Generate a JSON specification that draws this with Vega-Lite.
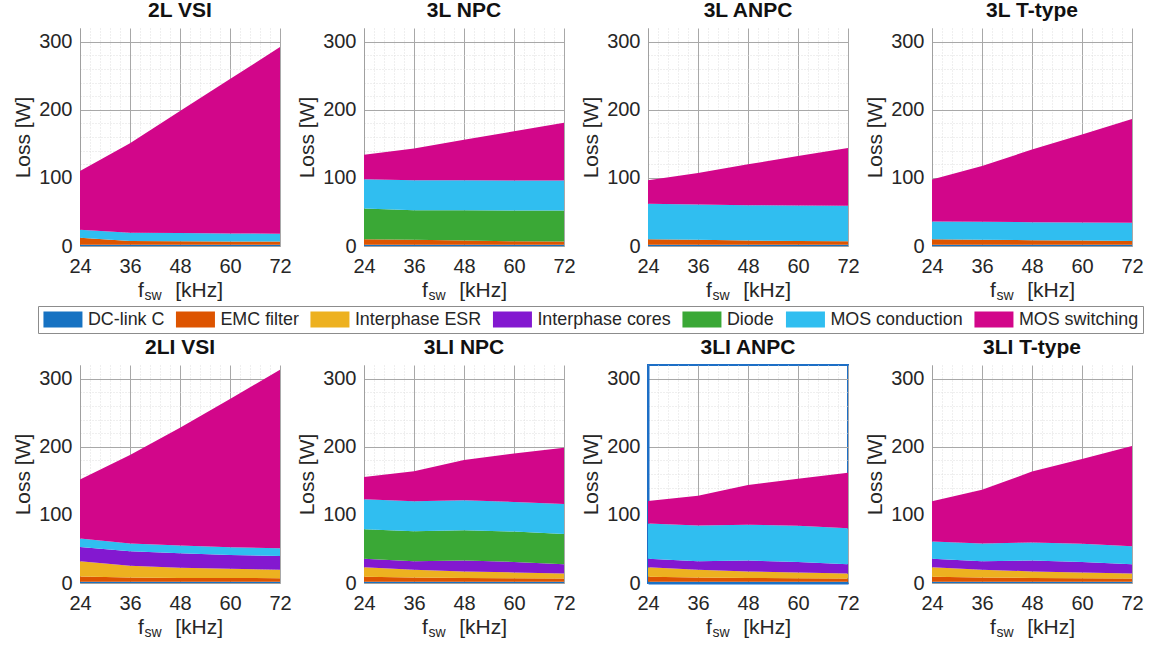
{
"$schema": "https://vega.github.io/schema/vega-lite/v6.json",
"padding": {"left": 12, "top": 0, "right": 0, "bottom": 0},
"background": "white",
"data": {"values": [
{"t":"2L VSI","f":24,"c":"DC-link C","k":0,"v":2},{"t":"2L VSI","f":36,"c":"DC-link C","k":0,"v":2},{"t":"2L VSI","f":48,"c":"DC-link C","k":0,"v":2},{"t":"2L VSI","f":60,"c":"DC-link C","k":0,"v":2},{"t":"2L VSI","f":72,"c":"DC-link C","k":0,"v":2},
{"t":"2L VSI","f":24,"c":"EMC filter","k":1,"v":10},{"t":"2L VSI","f":36,"c":"EMC filter","k":1,"v":5.5},{"t":"2L VSI","f":48,"c":"EMC filter","k":1,"v":5},{"t":"2L VSI","f":60,"c":"EMC filter","k":1,"v":4.5},{"t":"2L VSI","f":72,"c":"EMC filter","k":1,"v":4.5},
{"t":"2L VSI","f":24,"c":"MOS conduction","k":5,"v":12},{"t":"2L VSI","f":36,"c":"MOS conduction","k":5,"v":12},{"t":"2L VSI","f":48,"c":"MOS conduction","k":5,"v":12},{"t":"2L VSI","f":60,"c":"MOS conduction","k":5,"v":12},{"t":"2L VSI","f":72,"c":"MOS conduction","k":5,"v":11.5},
{"t":"2L VSI","f":24,"c":"MOS switching","k":6,"v":86},{"t":"2L VSI","f":36,"c":"MOS switching","k":6,"v":131.5},{"t":"2L VSI","f":48,"c":"MOS switching","k":6,"v":179},{"t":"2L VSI","f":60,"c":"MOS switching","k":6,"v":226.5},{"t":"2L VSI","f":72,"c":"MOS switching","k":6,"v":274},

{"t":"3L NPC","f":24,"c":"DC-link C","k":0,"v":2},{"t":"3L NPC","f":36,"c":"DC-link C","k":0,"v":2},{"t":"3L NPC","f":48,"c":"DC-link C","k":0,"v":2},{"t":"3L NPC","f":60,"c":"DC-link C","k":0,"v":2},{"t":"3L NPC","f":72,"c":"DC-link C","k":0,"v":2},
{"t":"3L NPC","f":24,"c":"EMC filter","k":1,"v":8},{"t":"3L NPC","f":36,"c":"EMC filter","k":1,"v":7},{"t":"3L NPC","f":48,"c":"EMC filter","k":1,"v":6},{"t":"3L NPC","f":60,"c":"EMC filter","k":1,"v":5},{"t":"3L NPC","f":72,"c":"EMC filter","k":1,"v":4.5},
{"t":"3L NPC","f":24,"c":"Diode","k":4,"v":45},{"t":"3L NPC","f":36,"c":"Diode","k":4,"v":43.5},{"t":"3L NPC","f":48,"c":"Diode","k":4,"v":44.5},{"t":"3L NPC","f":60,"c":"Diode","k":4,"v":45},{"t":"3L NPC","f":72,"c":"Diode","k":4,"v":45.5},
{"t":"3L NPC","f":24,"c":"MOS conduction","k":5,"v":43},{"t":"3L NPC","f":36,"c":"MOS conduction","k":5,"v":44},{"t":"3L NPC","f":48,"c":"MOS conduction","k":5,"v":44},{"t":"3L NPC","f":60,"c":"MOS conduction","k":5,"v":44},{"t":"3L NPC","f":72,"c":"MOS conduction","k":5,"v":44},
{"t":"3L NPC","f":24,"c":"MOS switching","k":6,"v":36},{"t":"3L NPC","f":36,"c":"MOS switching","k":6,"v":46.5},{"t":"3L NPC","f":48,"c":"MOS switching","k":6,"v":59.5},{"t":"3L NPC","f":60,"c":"MOS switching","k":6,"v":72.5},{"t":"3L NPC","f":72,"c":"MOS switching","k":6,"v":85},

{"t":"3L ANPC","f":24,"c":"DC-link C","k":0,"v":2},{"t":"3L ANPC","f":36,"c":"DC-link C","k":0,"v":2},{"t":"3L ANPC","f":48,"c":"DC-link C","k":0,"v":2},{"t":"3L ANPC","f":60,"c":"DC-link C","k":0,"v":2},{"t":"3L ANPC","f":72,"c":"DC-link C","k":0,"v":2},
{"t":"3L ANPC","f":24,"c":"EMC filter","k":1,"v":8},{"t":"3L ANPC","f":36,"c":"EMC filter","k":1,"v":7},{"t":"3L ANPC","f":48,"c":"EMC filter","k":1,"v":6},{"t":"3L ANPC","f":60,"c":"EMC filter","k":1,"v":5.5},{"t":"3L ANPC","f":72,"c":"EMC filter","k":1,"v":5},
{"t":"3L ANPC","f":24,"c":"MOS conduction","k":5,"v":52},{"t":"3L ANPC","f":36,"c":"MOS conduction","k":5,"v":52},{"t":"3L ANPC","f":48,"c":"MOS conduction","k":5,"v":52},{"t":"3L ANPC","f":60,"c":"MOS conduction","k":5,"v":52},{"t":"3L ANPC","f":72,"c":"MOS conduction","k":5,"v":52},
{"t":"3L ANPC","f":24,"c":"MOS switching","k":6,"v":34.5},{"t":"3L ANPC","f":36,"c":"MOS switching","k":6,"v":46},{"t":"3L ANPC","f":48,"c":"MOS switching","k":6,"v":60},{"t":"3L ANPC","f":60,"c":"MOS switching","k":6,"v":72.5},{"t":"3L ANPC","f":72,"c":"MOS switching","k":6,"v":85},

{"t":"3L T-type","f":24,"c":"DC-link C","k":0,"v":2},{"t":"3L T-type","f":36,"c":"DC-link C","k":0,"v":2},{"t":"3L T-type","f":48,"c":"DC-link C","k":0,"v":2},{"t":"3L T-type","f":60,"c":"DC-link C","k":0,"v":2},{"t":"3L T-type","f":72,"c":"DC-link C","k":0,"v":2},
{"t":"3L T-type","f":24,"c":"EMC filter","k":1,"v":8},{"t":"3L T-type","f":36,"c":"EMC filter","k":1,"v":7},{"t":"3L T-type","f":48,"c":"EMC filter","k":1,"v":6.5},{"t":"3L T-type","f":60,"c":"EMC filter","k":1,"v":6},{"t":"3L T-type","f":72,"c":"EMC filter","k":1,"v":5.5},
{"t":"3L T-type","f":24,"c":"MOS conduction","k":5,"v":26},{"t":"3L T-type","f":36,"c":"MOS conduction","k":5,"v":26.5},{"t":"3L T-type","f":48,"c":"MOS conduction","k":5,"v":26.5},{"t":"3L T-type","f":60,"c":"MOS conduction","k":5,"v":26.5},{"t":"3L T-type","f":72,"c":"MOS conduction","k":5,"v":26.5},
{"t":"3L T-type","f":24,"c":"MOS switching","k":6,"v":61.5},{"t":"3L T-type","f":36,"c":"MOS switching","k":6,"v":82},{"t":"3L T-type","f":48,"c":"MOS switching","k":6,"v":106.5},{"t":"3L T-type","f":60,"c":"MOS switching","k":6,"v":129},{"t":"3L T-type","f":72,"c":"MOS switching","k":6,"v":152.5},

{"t":"2LI VSI","f":24,"c":"DC-link C","k":0,"v":2},{"t":"2LI VSI","f":36,"c":"DC-link C","k":0,"v":2},{"t":"2LI VSI","f":48,"c":"DC-link C","k":0,"v":2},{"t":"2LI VSI","f":60,"c":"DC-link C","k":0,"v":2},{"t":"2LI VSI","f":72,"c":"DC-link C","k":0,"v":2},
{"t":"2LI VSI","f":24,"c":"EMC filter","k":1,"v":7.5},{"t":"2LI VSI","f":36,"c":"EMC filter","k":1,"v":6},{"t":"2LI VSI","f":48,"c":"EMC filter","k":1,"v":5.5},{"t":"2LI VSI","f":60,"c":"EMC filter","k":1,"v":5.5},{"t":"2LI VSI","f":72,"c":"EMC filter","k":1,"v":5},
{"t":"2LI VSI","f":24,"c":"Interphase ESR","k":2,"v":22.5},{"t":"2LI VSI","f":36,"c":"Interphase ESR","k":2,"v":17.5},{"t":"2LI VSI","f":48,"c":"Interphase ESR","k":2,"v":15},{"t":"2LI VSI","f":60,"c":"Interphase ESR","k":2,"v":13.5},{"t":"2LI VSI","f":72,"c":"Interphase ESR","k":2,"v":12.5},
{"t":"2LI VSI","f":24,"c":"Interphase cores","k":3,"v":21},{"t":"2LI VSI","f":36,"c":"Interphase cores","k":3,"v":21},{"t":"2LI VSI","f":48,"c":"Interphase cores","k":3,"v":21},{"t":"2LI VSI","f":60,"c":"Interphase cores","k":3,"v":20},{"t":"2LI VSI","f":72,"c":"Interphase cores","k":3,"v":20},
{"t":"2LI VSI","f":24,"c":"MOS conduction","k":5,"v":12.5},{"t":"2LI VSI","f":36,"c":"MOS conduction","k":5,"v":11.5},{"t":"2LI VSI","f":48,"c":"MOS conduction","k":5,"v":11.5},{"t":"2LI VSI","f":60,"c":"MOS conduction","k":5,"v":11.5},{"t":"2LI VSI","f":72,"c":"MOS conduction","k":5,"v":11.5},
{"t":"2LI VSI","f":24,"c":"MOS switching","k":6,"v":86.5},{"t":"2LI VSI","f":36,"c":"MOS switching","k":6,"v":130},{"t":"2LI VSI","f":48,"c":"MOS switching","k":6,"v":173},{"t":"2LI VSI","f":60,"c":"MOS switching","k":6,"v":217.5},{"t":"2LI VSI","f":72,"c":"MOS switching","k":6,"v":262},

{"t":"3LI NPC","f":24,"c":"DC-link C","k":0,"v":2},{"t":"3LI NPC","f":36,"c":"DC-link C","k":0,"v":2},{"t":"3LI NPC","f":48,"c":"DC-link C","k":0,"v":2},{"t":"3LI NPC","f":60,"c":"DC-link C","k":0,"v":2},{"t":"3LI NPC","f":72,"c":"DC-link C","k":0,"v":2},
{"t":"3LI NPC","f":24,"c":"EMC filter","k":1,"v":7},{"t":"3LI NPC","f":36,"c":"EMC filter","k":1,"v":6},{"t":"3LI NPC","f":48,"c":"EMC filter","k":1,"v":5.5},{"t":"3LI NPC","f":60,"c":"EMC filter","k":1,"v":5},{"t":"3LI NPC","f":72,"c":"EMC filter","k":1,"v":4.5},
{"t":"3LI NPC","f":24,"c":"Interphase ESR","k":2,"v":14},{"t":"3LI NPC","f":36,"c":"Interphase ESR","k":2,"v":11.5},{"t":"3LI NPC","f":48,"c":"Interphase ESR","k":2,"v":9.5},{"t":"3LI NPC","f":60,"c":"Interphase ESR","k":2,"v":8.5},{"t":"3LI NPC","f":72,"c":"Interphase ESR","k":2,"v":7.5},
{"t":"3LI NPC","f":24,"c":"Interphase cores","k":3,"v":12.5},{"t":"3LI NPC","f":36,"c":"Interphase cores","k":3,"v":12.5},{"t":"3LI NPC","f":48,"c":"Interphase cores","k":3,"v":16},{"t":"3LI NPC","f":60,"c":"Interphase cores","k":3,"v":15.5},{"t":"3LI NPC","f":72,"c":"Interphase cores","k":3,"v":13.5},
{"t":"3LI NPC","f":24,"c":"Diode","k":4,"v":43.5},{"t":"3LI NPC","f":36,"c":"Diode","k":4,"v":44},{"t":"3LI NPC","f":48,"c":"Diode","k":4,"v":44.5},{"t":"3LI NPC","f":60,"c":"Diode","k":4,"v":44.5},{"t":"3LI NPC","f":72,"c":"Diode","k":4,"v":44.5},
{"t":"3LI NPC","f":24,"c":"MOS conduction","k":5,"v":44},{"t":"3LI NPC","f":36,"c":"MOS conduction","k":5,"v":44},{"t":"3LI NPC","f":48,"c":"MOS conduction","k":5,"v":44},{"t":"3LI NPC","f":60,"c":"MOS conduction","k":5,"v":43.5},{"t":"3LI NPC","f":72,"c":"MOS conduction","k":5,"v":44},
{"t":"3LI NPC","f":24,"c":"MOS switching","k":6,"v":32.5},{"t":"3LI NPC","f":36,"c":"MOS switching","k":6,"v":44},{"t":"3LI NPC","f":48,"c":"MOS switching","k":6,"v":59},{"t":"3LI NPC","f":60,"c":"MOS switching","k":6,"v":71},{"t":"3LI NPC","f":72,"c":"MOS switching","k":6,"v":82.5},

{"t":"3LI ANPC","f":24,"c":"DC-link C","k":0,"v":2},{"t":"3LI ANPC","f":36,"c":"DC-link C","k":0,"v":2},{"t":"3LI ANPC","f":48,"c":"DC-link C","k":0,"v":2},{"t":"3LI ANPC","f":60,"c":"DC-link C","k":0,"v":2},{"t":"3LI ANPC","f":72,"c":"DC-link C","k":0,"v":2},
{"t":"3LI ANPC","f":24,"c":"EMC filter","k":1,"v":7},{"t":"3LI ANPC","f":36,"c":"EMC filter","k":1,"v":6},{"t":"3LI ANPC","f":48,"c":"EMC filter","k":1,"v":5.5},{"t":"3LI ANPC","f":60,"c":"EMC filter","k":1,"v":5},{"t":"3LI ANPC","f":72,"c":"EMC filter","k":1,"v":4.5},
{"t":"3LI ANPC","f":24,"c":"Interphase ESR","k":2,"v":14},{"t":"3LI ANPC","f":36,"c":"Interphase ESR","k":2,"v":11.5},{"t":"3LI ANPC","f":48,"c":"Interphase ESR","k":2,"v":9.5},{"t":"3LI ANPC","f":60,"c":"Interphase ESR","k":2,"v":8.5},{"t":"3LI ANPC","f":72,"c":"Interphase ESR","k":2,"v":7.5},
{"t":"3LI ANPC","f":24,"c":"Interphase cores","k":3,"v":12.5},{"t":"3LI ANPC","f":36,"c":"Interphase cores","k":3,"v":12.5},{"t":"3LI ANPC","f":48,"c":"Interphase cores","k":3,"v":16},{"t":"3LI ANPC","f":60,"c":"Interphase cores","k":3,"v":15.5},{"t":"3LI ANPC","f":72,"c":"Interphase cores","k":3,"v":13.5},
{"t":"3LI ANPC","f":24,"c":"MOS conduction","k":5,"v":52},{"t":"3LI ANPC","f":36,"c":"MOS conduction","k":5,"v":52.5},{"t":"3LI ANPC","f":48,"c":"MOS conduction","k":5,"v":52.5},{"t":"3LI ANPC","f":60,"c":"MOS conduction","k":5,"v":53},{"t":"3LI ANPC","f":72,"c":"MOS conduction","k":5,"v":53},
{"t":"3LI ANPC","f":24,"c":"MOS switching","k":6,"v":33},{"t":"3LI ANPC","f":36,"c":"MOS switching","k":6,"v":43.5},{"t":"3LI ANPC","f":48,"c":"MOS switching","k":6,"v":58.5},{"t":"3LI ANPC","f":60,"c":"MOS switching","k":6,"v":69},{"t":"3LI ANPC","f":72,"c":"MOS switching","k":6,"v":81.5},

{"t":"3LI T-type","f":24,"c":"DC-link C","k":0,"v":2},{"t":"3LI T-type","f":36,"c":"DC-link C","k":0,"v":2},{"t":"3LI T-type","f":48,"c":"DC-link C","k":0,"v":2},{"t":"3LI T-type","f":60,"c":"DC-link C","k":0,"v":2},{"t":"3LI T-type","f":72,"c":"DC-link C","k":0,"v":2},
{"t":"3LI T-type","f":24,"c":"EMC filter","k":1,"v":7},{"t":"3LI T-type","f":36,"c":"EMC filter","k":1,"v":6},{"t":"3LI T-type","f":48,"c":"EMC filter","k":1,"v":5.5},{"t":"3LI T-type","f":60,"c":"EMC filter","k":1,"v":5},{"t":"3LI T-type","f":72,"c":"EMC filter","k":1,"v":4.5},
{"t":"3LI T-type","f":24,"c":"Interphase ESR","k":2,"v":14},{"t":"3LI T-type","f":36,"c":"Interphase ESR","k":2,"v":11.5},{"t":"3LI T-type","f":48,"c":"Interphase ESR","k":2,"v":9.5},{"t":"3LI T-type","f":60,"c":"Interphase ESR","k":2,"v":8.5},{"t":"3LI T-type","f":72,"c":"Interphase ESR","k":2,"v":7.5},
{"t":"3LI T-type","f":24,"c":"Interphase cores","k":3,"v":12.5},{"t":"3LI T-type","f":36,"c":"Interphase cores","k":3,"v":12.5},{"t":"3LI T-type","f":48,"c":"Interphase cores","k":3,"v":16},{"t":"3LI T-type","f":60,"c":"Interphase cores","k":3,"v":15.5},{"t":"3LI T-type","f":72,"c":"Interphase cores","k":3,"v":13.5},
{"t":"3LI T-type","f":24,"c":"MOS conduction","k":5,"v":25.5},{"t":"3LI T-type","f":36,"c":"MOS conduction","k":5,"v":26},{"t":"3LI T-type","f":48,"c":"MOS conduction","k":5,"v":26.5},{"t":"3LI T-type","f":60,"c":"MOS conduction","k":5,"v":26.5},{"t":"3LI T-type","f":72,"c":"MOS conduction","k":5,"v":26.5},
{"t":"3LI T-type","f":24,"c":"MOS switching","k":6,"v":59},{"t":"3LI T-type","f":36,"c":"MOS switching","k":6,"v":79},{"t":"3LI T-type","f":48,"c":"MOS switching","k":6,"v":104},{"t":"3LI T-type","f":60,"c":"MOS switching","k":6,"v":124.5},{"t":"3LI T-type","f":72,"c":"MOS switching","k":6,"v":147}
]},
"spacing": 2,
"resolve": {"legend": {"color": "independent"}},
"vconcat": [
{"hconcat": [
{"width": 200, "height": 218, "title": "2L VSI", "transform": [{"filter": "datum.t === '2L VSI'"}], "resolve": {"axis": {"x": "independent"}},
 "layer": [
  {"mark": {"type": "area", "interpolate": "linear"}, "encoding": {
    "x": {"field": "f", "type": "quantitative", "scale": {"domain": [24, 72], "nice": false, "zero": false}, "axis": {"values": [24,26.4,28.8,31.2,33.6,36,38.4,40.8,43.2,45.6,48,50.4,52.8,55.2,57.6,60,62.4,64.8,67.2,69.6,72], "labelExpr": "datum.value % 12 === 0 ? datum.label : ''", "gridColor": {"condition": {"test": "datum.value % 12 === 0", "value": "#a8a8a8"}, "value": "#dedede"}, "gridDash": {"condition": {"test": "datum.value % 12 === 0", "value": []}, "value": [1, 2]}, "title": "f\u2003\u2002[kHz]"}},
    "y": {"field": "v", "type": "quantitative", "stack": "zero", "scale": {"domain": [0, 320], "nice": false}, "axis": {"values": [0,20,40,60,80,100,120,140,160,180,200,220,240,260,280,300], "labelExpr": "datum.value % 100 === 0 ? datum.label : ''", "gridColor": {"condition": {"test": "datum.value % 100 === 0", "value": "#a8a8a8"}, "value": "#dedede"}, "gridDash": {"condition": {"test": "datum.value % 100 === 0", "value": []}, "value": [1, 2]}, "title": "Loss [W]"}},
    "color": {"field": "c", "type": "nominal", "title": null, "scale": {"domain": ["DC-link C","EMC filter","Interphase ESR","Interphase cores","Diode","MOS conduction","MOS switching"], "range": ["#1672c2","#dd5400","#edb120","#8318d0","#3aa836","#30bef0","#d2068a"]}},
    "order": {"field": "k", "type": "quantitative"}}},
  {"mark": {"type": "point", "opacity": 0}, "encoding": {"x": {"field": "f", "type": "quantitative", "axis": {"orient": "top", "labels": false, "ticks": false, "domain": false, "grid": false, "title": "sw", "titleFontSize": 14, "titleX": 64, "titleY": 271, "titleAlign": "left", "titleBaseline": "alphabetic"}}}}
 ]},
{"width": 200, "height": 218, "title": "3L NPC", "transform": [{"filter": "datum.t === '3L NPC'"}], "resolve": {"axis": {"x": "independent"}},
 "layer": [
  {"mark": {"type": "area", "interpolate": "linear"}, "encoding": {
    "x": {"field": "f", "type": "quantitative", "scale": {"domain": [24, 72], "nice": false, "zero": false}, "axis": {"values": [24,26.4,28.8,31.2,33.6,36,38.4,40.8,43.2,45.6,48,50.4,52.8,55.2,57.6,60,62.4,64.8,67.2,69.6,72], "labelExpr": "datum.value % 12 === 0 ? datum.label : ''", "gridColor": {"condition": {"test": "datum.value % 12 === 0", "value": "#a8a8a8"}, "value": "#dedede"}, "gridDash": {"condition": {"test": "datum.value % 12 === 0", "value": []}, "value": [1, 2]}, "title": "f\u2003\u2002[kHz]"}},
    "y": {"field": "v", "type": "quantitative", "stack": "zero", "scale": {"domain": [0, 320], "nice": false}, "axis": {"values": [0,20,40,60,80,100,120,140,160,180,200,220,240,260,280,300], "labelExpr": "datum.value % 100 === 0 ? datum.label : ''", "gridColor": {"condition": {"test": "datum.value % 100 === 0", "value": "#a8a8a8"}, "value": "#dedede"}, "gridDash": {"condition": {"test": "datum.value % 100 === 0", "value": []}, "value": [1, 2]}, "title": "Loss [W]"}},
    "color": {"field": "c", "type": "nominal", "title": null, "scale": {"domain": ["DC-link C","EMC filter","Interphase ESR","Interphase cores","Diode","MOS conduction","MOS switching"], "range": ["#1672c2","#dd5400","#edb120","#8318d0","#3aa836","#30bef0","#d2068a"]}},
    "order": {"field": "k", "type": "quantitative"}}},
  {"mark": {"type": "point", "opacity": 0}, "encoding": {"x": {"field": "f", "type": "quantitative", "axis": {"orient": "top", "labels": false, "ticks": false, "domain": false, "grid": false, "title": "sw", "titleFontSize": 14, "titleX": 64, "titleY": 271, "titleAlign": "left", "titleBaseline": "alphabetic"}}}}
 ]},
{"width": 200, "height": 218, "title": "3L ANPC", "transform": [{"filter": "datum.t === '3L ANPC'"}], "resolve": {"axis": {"x": "independent"}},
 "layer": [
  {"mark": {"type": "area", "interpolate": "linear"}, "encoding": {
    "x": {"field": "f", "type": "quantitative", "scale": {"domain": [24, 72], "nice": false, "zero": false}, "axis": {"values": [24,26.4,28.8,31.2,33.6,36,38.4,40.8,43.2,45.6,48,50.4,52.8,55.2,57.6,60,62.4,64.8,67.2,69.6,72], "labelExpr": "datum.value % 12 === 0 ? datum.label : ''", "gridColor": {"condition": {"test": "datum.value % 12 === 0", "value": "#a8a8a8"}, "value": "#dedede"}, "gridDash": {"condition": {"test": "datum.value % 12 === 0", "value": []}, "value": [1, 2]}, "title": "f\u2003\u2002[kHz]"}},
    "y": {"field": "v", "type": "quantitative", "stack": "zero", "scale": {"domain": [0, 320], "nice": false}, "axis": {"values": [0,20,40,60,80,100,120,140,160,180,200,220,240,260,280,300], "labelExpr": "datum.value % 100 === 0 ? datum.label : ''", "gridColor": {"condition": {"test": "datum.value % 100 === 0", "value": "#a8a8a8"}, "value": "#dedede"}, "gridDash": {"condition": {"test": "datum.value % 100 === 0", "value": []}, "value": [1, 2]}, "title": "Loss [W]"}},
    "color": {"field": "c", "type": "nominal", "title": null, "scale": {"domain": ["DC-link C","EMC filter","Interphase ESR","Interphase cores","Diode","MOS conduction","MOS switching"], "range": ["#1672c2","#dd5400","#edb120","#8318d0","#3aa836","#30bef0","#d2068a"]}},
    "order": {"field": "k", "type": "quantitative"}}},
  {"mark": {"type": "point", "opacity": 0}, "encoding": {"x": {"field": "f", "type": "quantitative", "axis": {"orient": "top", "labels": false, "ticks": false, "domain": false, "grid": false, "title": "sw", "titleFontSize": 14, "titleX": 64, "titleY": 271, "titleAlign": "left", "titleBaseline": "alphabetic"}}}}
 ]},
{"width": 200, "height": 218, "title": "3L T-type", "transform": [{"filter": "datum.t === '3L T-type'"}], "resolve": {"axis": {"x": "independent"}},
 "layer": [
  {"mark": {"type": "area", "interpolate": "linear"}, "encoding": {
    "x": {"field": "f", "type": "quantitative", "scale": {"domain": [24, 72], "nice": false, "zero": false}, "axis": {"values": [24,26.4,28.8,31.2,33.6,36,38.4,40.8,43.2,45.6,48,50.4,52.8,55.2,57.6,60,62.4,64.8,67.2,69.6,72], "labelExpr": "datum.value % 12 === 0 ? datum.label : ''", "gridColor": {"condition": {"test": "datum.value % 12 === 0", "value": "#a8a8a8"}, "value": "#dedede"}, "gridDash": {"condition": {"test": "datum.value % 12 === 0", "value": []}, "value": [1, 2]}, "title": "f\u2003\u2002[kHz]"}},
    "y": {"field": "v", "type": "quantitative", "stack": "zero", "scale": {"domain": [0, 320], "nice": false}, "axis": {"values": [0,20,40,60,80,100,120,140,160,180,200,220,240,260,280,300], "labelExpr": "datum.value % 100 === 0 ? datum.label : ''", "gridColor": {"condition": {"test": "datum.value % 100 === 0", "value": "#a8a8a8"}, "value": "#dedede"}, "gridDash": {"condition": {"test": "datum.value % 100 === 0", "value": []}, "value": [1, 2]}, "title": "Loss [W]"}},
    "color": {"field": "c", "type": "nominal", "title": null, "scale": {"domain": ["DC-link C","EMC filter","Interphase ESR","Interphase cores","Diode","MOS conduction","MOS switching"], "range": ["#1672c2","#dd5400","#edb120","#8318d0","#3aa836","#30bef0","#d2068a"]}},
    "order": {"field": "k", "type": "quantitative"}}},
  {"mark": {"type": "point", "opacity": 0}, "encoding": {"x": {"field": "f", "type": "quantitative", "axis": {"orient": "top", "labels": false, "ticks": false, "domain": false, "grid": false, "title": "sw", "titleFontSize": 14, "titleX": 64, "titleY": 271, "titleAlign": "left", "titleBaseline": "alphabetic"}}}}
 ]}
], "spacing": 84, "bounds": "flush"},
{"hconcat": [
{"width": 200, "height": 218, "title": "2LI VSI", "transform": [{"filter": "datum.t === '2LI VSI'"}], "resolve": {"axis": {"x": "independent"}},
 "layer": [
  {"mark": {"type": "area", "interpolate": "linear"}, "encoding": {
    "x": {"field": "f", "type": "quantitative", "scale": {"domain": [24, 72], "nice": false, "zero": false}, "axis": {"values": [24,26.4,28.8,31.2,33.6,36,38.4,40.8,43.2,45.6,48,50.4,52.8,55.2,57.6,60,62.4,64.8,67.2,69.6,72], "labelExpr": "datum.value % 12 === 0 ? datum.label : ''", "gridColor": {"condition": {"test": "datum.value % 12 === 0", "value": "#a8a8a8"}, "value": "#dedede"}, "gridDash": {"condition": {"test": "datum.value % 12 === 0", "value": []}, "value": [1, 2]}, "title": "f\u2003\u2002[kHz]"}},
    "y": {"field": "v", "type": "quantitative", "stack": "zero", "scale": {"domain": [0, 320], "nice": false}, "axis": {"values": [0,20,40,60,80,100,120,140,160,180,200,220,240,260,280,300], "labelExpr": "datum.value % 100 === 0 ? datum.label : ''", "gridColor": {"condition": {"test": "datum.value % 100 === 0", "value": "#a8a8a8"}, "value": "#dedede"}, "gridDash": {"condition": {"test": "datum.value % 100 === 0", "value": []}, "value": [1, 2]}, "title": "Loss [W]"}},
    "color": {"field": "c", "type": "nominal", "title": null, "legend": null, "scale": {"domain": ["DC-link C","EMC filter","Interphase ESR","Interphase cores","Diode","MOS conduction","MOS switching"], "range": ["#1672c2","#dd5400","#edb120","#8318d0","#3aa836","#30bef0","#d2068a"]}},
    "order": {"field": "k", "type": "quantitative"}}},
  {"mark": {"type": "point", "opacity": 0}, "encoding": {"x": {"field": "f", "type": "quantitative", "axis": {"orient": "top", "labels": false, "ticks": false, "domain": false, "grid": false, "title": "sw", "titleFontSize": 14, "titleX": 64, "titleY": 271, "titleAlign": "left", "titleBaseline": "alphabetic"}}}}
 ]},
{"width": 200, "height": 218, "title": "3LI NPC", "transform": [{"filter": "datum.t === '3LI NPC'"}], "resolve": {"axis": {"x": "independent"}},
 "layer": [
  {"mark": {"type": "area", "interpolate": "linear"}, "encoding": {
    "x": {"field": "f", "type": "quantitative", "scale": {"domain": [24, 72], "nice": false, "zero": false}, "axis": {"values": [24,26.4,28.8,31.2,33.6,36,38.4,40.8,43.2,45.6,48,50.4,52.8,55.2,57.6,60,62.4,64.8,67.2,69.6,72], "labelExpr": "datum.value % 12 === 0 ? datum.label : ''", "gridColor": {"condition": {"test": "datum.value % 12 === 0", "value": "#a8a8a8"}, "value": "#dedede"}, "gridDash": {"condition": {"test": "datum.value % 12 === 0", "value": []}, "value": [1, 2]}, "title": "f\u2003\u2002[kHz]"}},
    "y": {"field": "v", "type": "quantitative", "stack": "zero", "scale": {"domain": [0, 320], "nice": false}, "axis": {"values": [0,20,40,60,80,100,120,140,160,180,200,220,240,260,280,300], "labelExpr": "datum.value % 100 === 0 ? datum.label : ''", "gridColor": {"condition": {"test": "datum.value % 100 === 0", "value": "#a8a8a8"}, "value": "#dedede"}, "gridDash": {"condition": {"test": "datum.value % 100 === 0", "value": []}, "value": [1, 2]}, "title": "Loss [W]"}},
    "color": {"field": "c", "type": "nominal", "title": null, "legend": null, "scale": {"domain": ["DC-link C","EMC filter","Interphase ESR","Interphase cores","Diode","MOS conduction","MOS switching"], "range": ["#1672c2","#dd5400","#edb120","#8318d0","#3aa836","#30bef0","#d2068a"]}},
    "order": {"field": "k", "type": "quantitative"}}},
  {"mark": {"type": "point", "opacity": 0}, "encoding": {"x": {"field": "f", "type": "quantitative", "axis": {"orient": "top", "labels": false, "ticks": false, "domain": false, "grid": false, "title": "sw", "titleFontSize": 14, "titleX": 64, "titleY": 271, "titleAlign": "left", "titleBaseline": "alphabetic"}}}}
 ]},
{"width": 200, "height": 218, "title": "3LI ANPC", "transform": [{"filter": "datum.t === '3LI ANPC'"}], "resolve": {"axis": {"x": "independent"}}, "view": {"stroke": "#1d6fc6", "strokeWidth": 2},
 "layer": [
  {"mark": {"type": "area", "interpolate": "linear"}, "encoding": {
    "x": {"field": "f", "type": "quantitative", "scale": {"domain": [24, 72], "nice": false, "zero": false}, "axis": {"domainColor": "#1d6fc6", "domainWidth": 2, "values": [24,26.4,28.8,31.2,33.6,36,38.4,40.8,43.2,45.6,48,50.4,52.8,55.2,57.6,60,62.4,64.8,67.2,69.6,72], "labelExpr": "datum.value % 12 === 0 ? datum.label : ''", "gridColor": {"condition": {"test": "datum.value % 12 === 0", "value": "#a8a8a8"}, "value": "#dedede"}, "gridDash": {"condition": {"test": "datum.value % 12 === 0", "value": []}, "value": [1, 2]}, "title": "f\u2003\u2002[kHz]"}},
    "y": {"field": "v", "type": "quantitative", "stack": "zero", "scale": {"domain": [0, 320], "nice": false}, "axis": {"domainColor": "#1d6fc6", "domainWidth": 2, "values": [0,20,40,60,80,100,120,140,160,180,200,220,240,260,280,300], "labelExpr": "datum.value % 100 === 0 ? datum.label : ''", "gridColor": {"condition": {"test": "datum.value % 100 === 0", "value": "#a8a8a8"}, "value": "#dedede"}, "gridDash": {"condition": {"test": "datum.value % 100 === 0", "value": []}, "value": [1, 2]}, "title": "Loss [W]"}},
    "color": {"field": "c", "type": "nominal", "title": null, "legend": null, "scale": {"domain": ["DC-link C","EMC filter","Interphase ESR","Interphase cores","Diode","MOS conduction","MOS switching"], "range": ["#1672c2","#dd5400","#edb120","#8318d0","#3aa836","#30bef0","#d2068a"]}},
    "order": {"field": "k", "type": "quantitative"}}},
  {"mark": {"type": "point", "opacity": 0}, "encoding": {"x": {"field": "f", "type": "quantitative", "axis": {"orient": "top", "labels": false, "ticks": false, "domain": false, "grid": false, "title": "sw", "titleFontSize": 14, "titleX": 64, "titleY": 271, "titleAlign": "left", "titleBaseline": "alphabetic"}}}}
 ]},
{"width": 200, "height": 218, "title": "3LI T-type", "transform": [{"filter": "datum.t === '3LI T-type'"}], "resolve": {"axis": {"x": "independent"}},
 "layer": [
  {"mark": {"type": "area", "interpolate": "linear"}, "encoding": {
    "x": {"field": "f", "type": "quantitative", "scale": {"domain": [24, 72], "nice": false, "zero": false}, "axis": {"values": [24,26.4,28.8,31.2,33.6,36,38.4,40.8,43.2,45.6,48,50.4,52.8,55.2,57.6,60,62.4,64.8,67.2,69.6,72], "labelExpr": "datum.value % 12 === 0 ? datum.label : ''", "gridColor": {"condition": {"test": "datum.value % 12 === 0", "value": "#a8a8a8"}, "value": "#dedede"}, "gridDash": {"condition": {"test": "datum.value % 12 === 0", "value": []}, "value": [1, 2]}, "title": "f\u2003\u2002[kHz]"}},
    "y": {"field": "v", "type": "quantitative", "stack": "zero", "scale": {"domain": [0, 320], "nice": false}, "axis": {"values": [0,20,40,60,80,100,120,140,160,180,200,220,240,260,280,300], "labelExpr": "datum.value % 100 === 0 ? datum.label : ''", "gridColor": {"condition": {"test": "datum.value % 100 === 0", "value": "#a8a8a8"}, "value": "#dedede"}, "gridDash": {"condition": {"test": "datum.value % 100 === 0", "value": []}, "value": [1, 2]}, "title": "Loss [W]"}},
    "color": {"field": "c", "type": "nominal", "title": null, "legend": null, "scale": {"domain": ["DC-link C","EMC filter","Interphase ESR","Interphase cores","Diode","MOS conduction","MOS switching"], "range": ["#1672c2","#dd5400","#edb120","#8318d0","#3aa836","#30bef0","#d2068a"]}},
    "order": {"field": "k", "type": "quantitative"}}},
  {"mark": {"type": "point", "opacity": 0}, "encoding": {"x": {"field": "f", "type": "quantitative", "axis": {"orient": "top", "labels": false, "ticks": false, "domain": false, "grid": false, "title": "sw", "titleFontSize": 14, "titleX": 64, "titleY": 271, "titleAlign": "left", "titleBaseline": "alphabetic"}}}}
 ]}
], "spacing": 84, "bounds": "flush"}
],
"config": {
  "font": "Liberation Sans",
  "view": {"stroke": null},
  "title": {"fontSize": 21, "fontWeight": "bold", "color": "#111111", "offset": 7, "anchor": "middle", "frame": "group"},
  "axis": {"labelFontSize": 20, "labelColor": "#262626", "titleFontSize": 21, "titleFontWeight": "normal", "titleColor": "#262626", "ticks": false, "domainColor": "#a0a0a0", "labelOverlap": false, "labelFlush": false},
  "axisX": {"labelPadding": 10, "titlePadding": 3},
  "axisY": {"labelPadding": 8, "titlePadding": 5},
  "legend": {"orient": "none", "legendX": -42, "legendY": 278, "direction": "horizontal", "symbolType": "M-1,-1H3.875V1H-1Z", "symbolSize": 256, "symbolStrokeWidth": 0, "symbolOpacity": 1, "labelFontSize": 17.9, "labelColor": "#262626", "labelOffset": 27.5, "columnPadding": 10.5, "strokeColor": "#8c8c8c", "fillColor": "white", "padding": 4.5, "labelLimit": 300}
}
}
